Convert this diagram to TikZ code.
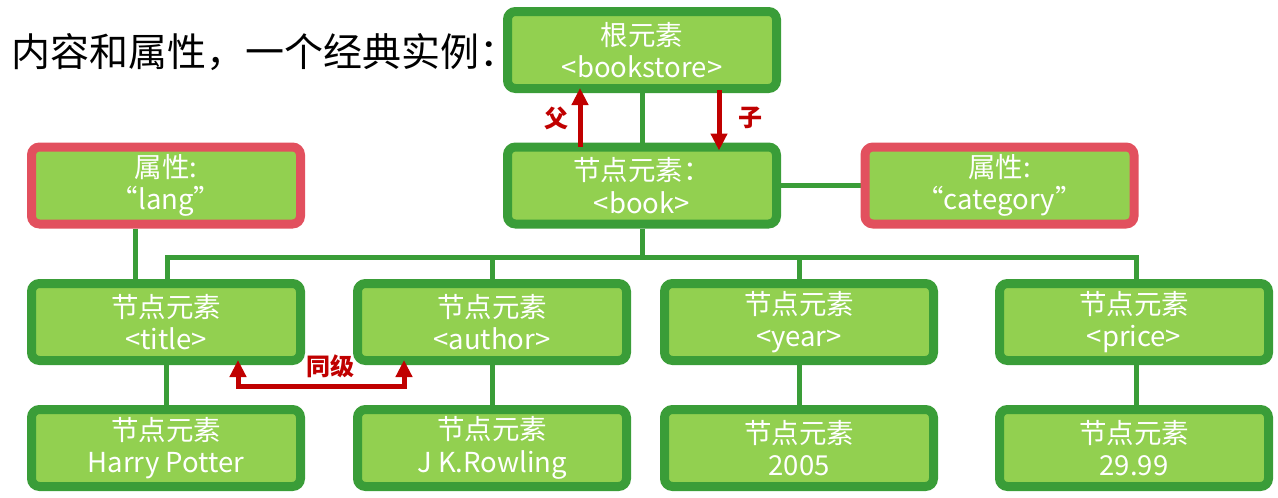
\documentclass[tikz,border=0pt]{standalone}
\usepackage{fontspec}
\setmainfont{Noto Sans CJK SC}
\usetikzlibrary{arrows.meta,backgrounds}
\definecolor{dg}{RGB}{58,157,56}
\definecolor{lg}{RGB}{146,208,80}
\definecolor{rb}{RGB}{226,80,94}
\definecolor{ar}{RGB}{192,0,0}
\begin{document}
\begin{tikzpicture}[x=1pt,y=-1pt,
 elem/.style={draw=dg, line width=9pt, fill=lg, rounded corners=8pt, minimum width=269pt, minimum height=77pt, inner sep=0pt, text=white, align=center, font=\fontsize{27.5}{32.5}\selectfont},
 attr/.style={elem, draw=rb},
 link/.style={draw=dg, line width=5pt},
 rarr/.style={draw=ar, line width=5pt, -{Triangle[width=16pt,length=17pt]}},
 rlab/.style={text=ar, font=\bfseries\fontsize{24}{24}\selectfont}]
\useasboundingbox (0,0) rectangle (1278,498);
\node[anchor=west, inner sep=0pt, font=\fontsize{39}{44}\selectfont] (head) at (11,52) {内容和属性，一个经典实例：};
\node[elem] (root) at (642,50) {根元素\\<bookstore>};
\node[elem] (book) at (642,185.5) {节点元素：\\<book>};
\node[attr] (lang) at (166,185.5) {属性:\\“lang”};
\node[attr] (cat) at (999.5,185.5) {属性:\\“category”};
\node[elem] (title) at (166,322) {节点元素\\<title>};
\node[elem] (author) at (492,322) {节点元素\\<author>};
\node[elem] (year) at (799,322) {节点元素\\<year>};
\node[elem] (price) at (1134,322) {节点元素\\<price>};
\node[elem] (hp) at (166,448) {节点元素\\Harry Potter};
\node[elem] (jk) at (492,448) {节点元素\\J K.Rowling};
\node[elem] (y5) at (799,448) {节点元素\\2005};
\node[elem] (p9) at (1134,448) {节点元素\\29.99};
\coordinate (bus) at (642,257);
\coordinate (s1) at (238,386);
\coordinate (s2) at (404,386);
\begin{pgfonlayer}{background}
\draw[link] (root.south) -- (book.north);
\draw[link] (book.east) -- (cat.west);
\draw[link] (book.south) -- (bus);
\draw[link] ([xshift=1pt]title.north) -- ([xshift=1pt]title.north |- bus) -- ([xshift=2pt]price.north |- bus) -- ([xshift=2pt]price.north);
\draw[link] (author.north) -- (author.north |- bus);
\draw[link] (year.north) -- (year.north |- bus);
\draw[link] ([xshift=-31pt]lang.south) -- ([xshift=-31pt]title.north);
\draw[link] (title.south) -- (hp.north);
\draw[link] (author.south) -- (jk.north);
\draw[link] (year.south) -- (y5.north);
\draw[link] ([xshift=2pt]price.south) -- ([xshift=2pt]p9.north);
\end{pgfonlayer}
\draw[rarr] ([xshift=-62pt,yshift=-4pt]book.north) -- ([xshift=-62pt,yshift=5pt]root.south);
\draw[rarr] ([xshift=77pt,yshift=3pt]root.south) -- ([xshift=77pt,yshift=-8pt]book.north);
\node[rlab] (fu) at (556,118) {父};
\node[rlab] (zi) at (750,118) {子};
\draw[rarr, {Triangle[width=16pt,length=17pt]}-{Triangle[width=16pt,length=17pt]}, line join=miter] ([xshift=72pt,yshift=5pt]title.south) -- (s1) -- (s2) -- ([xshift=-88pt,yshift=5pt]author.south);
\node[rlab] (tj) at (330,366) {同级};
\end{tikzpicture}
\end{document}
